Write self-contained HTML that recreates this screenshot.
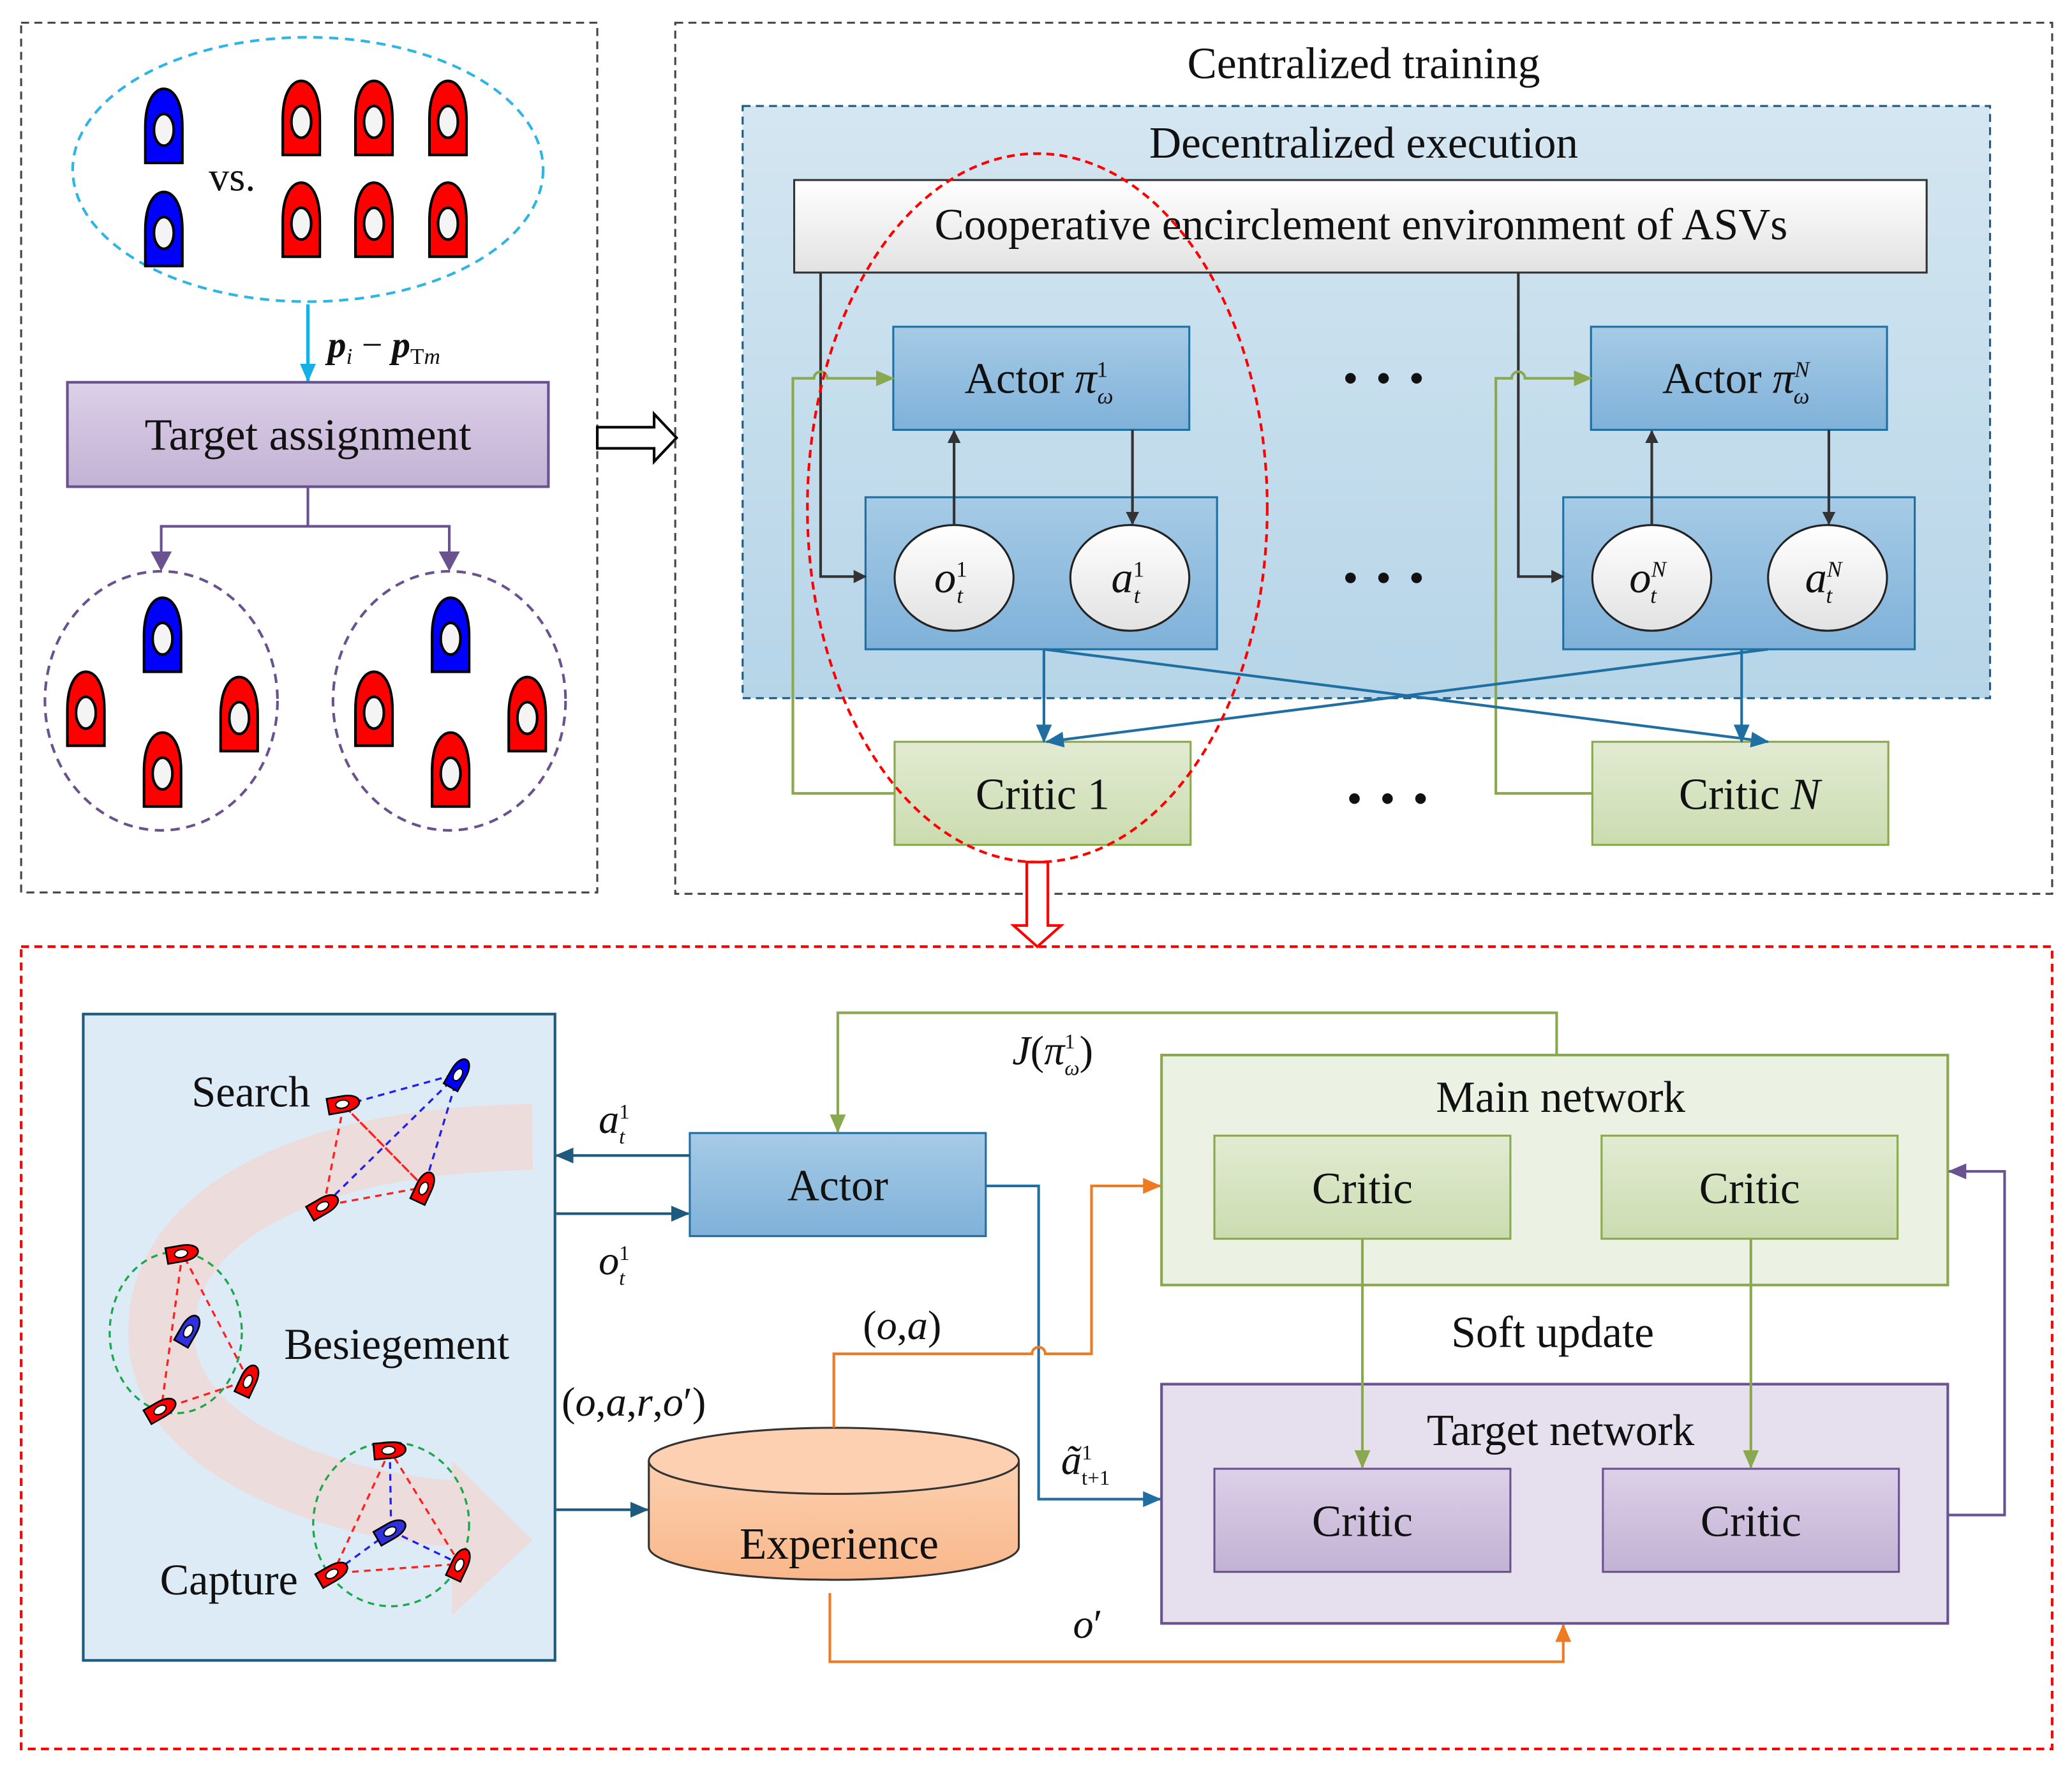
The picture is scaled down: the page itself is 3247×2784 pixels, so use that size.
<!DOCTYPE html>
<html><head><meta charset="utf-8"><style>
html,body{margin:0;padding:0;background:#fff;}
svg{display:block;}
text{font-family:"Liberation Serif",serif;fill:#111;}
</style></head><body>
<svg width="3247" height="2784" viewBox="0 0 1568 1344" xmlns="http://www.w3.org/2000/svg">
<defs>
<symbol id="boat" viewBox="0 0 30 58" overflow="visible">
<path d="M1,57 L1,30 C1,10 8,1 15,1 C22,1 29,10 29,30 L29,57 Z" stroke="#000" stroke-width="2"/>
<ellipse cx="15" cy="32" rx="7.5" ry="12" fill="#f4f4f4" stroke="#000" stroke-width="2"/>
</symbol>
<symbol id="sb" viewBox="0 0 14 26" overflow="visible">
<path d="M1,25 L1,13 C1,5 4,1 7,1 C10,1 13,5 13,13 L13,25 Z" stroke="#000" stroke-width="1.3"/>
<ellipse cx="7" cy="14" rx="3" ry="5" fill="#fff" stroke="#000" stroke-width="1"/>
</symbol>
<linearGradient id="gPur" x1="0" y1="0" x2="0" y2="1"><stop offset="0" stop-color="#ddd0e8"/><stop offset="1" stop-color="#c2b2d4"/></linearGradient>
<linearGradient id="gBlue" x1="0" y1="0" x2="0" y2="1"><stop offset="0" stop-color="#a6cbe6"/><stop offset="1" stop-color="#7fb1d9"/></linearGradient>
<linearGradient id="gBg" x1="0" y1="0" x2="0" y2="1"><stop offset="0" stop-color="#d4e6f1"/><stop offset="1" stop-color="#b6d5e8"/></linearGradient>
<linearGradient id="gEnv" x1="0" y1="0" x2="0" y2="1"><stop offset="0" stop-color="#ffffff"/><stop offset="1" stop-color="#e2e2e2"/></linearGradient>
<linearGradient id="gGrn" x1="0" y1="0" x2="0" y2="1"><stop offset="0" stop-color="#e2ebd2"/><stop offset="1" stop-color="#cbdcb0"/></linearGradient>
<linearGradient id="gCyl" x1="0" y1="0" x2="0" y2="1"><stop offset="0" stop-color="#fcd0b0"/><stop offset="1" stop-color="#f9b78a"/></linearGradient>
<marker id="aK" markerWidth="10" markerHeight="10" refX="9" refY="5" orient="auto" markerUnits="userSpaceOnUse"><path d="M0,0 L10,5 L0,10 Z" fill="#333"/></marker>
<marker id="aB" markerWidth="14" markerHeight="12" refX="13" refY="6" orient="auto" markerUnits="userSpaceOnUse"><path d="M0,0 L14,6 L0,12 Z" fill="#1f6fa3"/></marker>
<marker id="aG" markerWidth="14" markerHeight="12" refX="13" refY="6" orient="auto" markerUnits="userSpaceOnUse"><path d="M0,0 L14,6 L0,12 Z" fill="#8aa84f"/></marker>
<marker id="aP" markerWidth="14" markerHeight="12" refX="13" refY="6" orient="auto" markerUnits="userSpaceOnUse"><path d="M0,0 L14,6 L0,12 Z" fill="#6a5290"/></marker>
<marker id="aO" markerWidth="14" markerHeight="12" refX="13" refY="6" orient="auto" markerUnits="userSpaceOnUse"><path d="M0,0 L14,6 L0,12 Z" fill="#ee7a22"/></marker>
<marker id="aC" markerWidth="14" markerHeight="12" refX="13" refY="6" orient="auto" markerUnits="userSpaceOnUse"><path d="M0,0 L14,6 L0,12 Z" fill="#17b0e6"/></marker>
<marker id="aN" markerWidth="14" markerHeight="12" refX="13" refY="6" orient="auto" markerUnits="userSpaceOnUse"><path d="M0,0 L14,6 L0,12 Z" fill="#1d5a7e"/></marker>
</defs>

<!-- LEFT PANEL -->
<rect x="16" y="17" width="436" height="658" fill="none" stroke="#444" stroke-width="1.5" stroke-dasharray="6,4"/>
<ellipse cx="233" cy="128" rx="178" ry="100" fill="none" stroke="#2cb5e5" stroke-width="2" stroke-dasharray="7,5"/>
<use href="#boat" x="109" y="66" width="30" height="58" fill="#0000ff"/>
<use href="#boat" x="109" y="144" width="30" height="58" fill="#0000ff"/>
<text x="158" y="144" font-size="31">vs.</text>
<use href="#boat" x="213" y="60" width="30" height="58" fill="#ff0000"/>
<use href="#boat" x="268" y="60" width="30" height="58" fill="#ff0000"/>
<use href="#boat" x="324" y="60" width="30" height="58" fill="#ff0000"/>
<use href="#boat" x="213" y="137" width="30" height="58" fill="#ff0000"/>
<use href="#boat" x="268" y="137" width="30" height="58" fill="#ff0000"/>
<use href="#boat" x="324" y="137" width="30" height="58" fill="#ff0000"/>
<line x1="233" y1="230" x2="233" y2="288" stroke="#17b0e6" stroke-width="2.5" marker-end="url(#aC)"/>
<text x="248" y="270" font-size="28" font-style="italic" font-weight="bold">p<tspan font-size="17" dy="5" font-weight="normal">i</tspan><tspan dy="-5" font-weight="normal" font-style="normal"> − </tspan>p<tspan font-size="17" dy="5" font-weight="normal" font-style="normal">T</tspan><tspan font-size="17" font-weight="normal">m</tspan></text>
<rect x="51" y="289" width="364" height="79" fill="url(#gPur)" stroke="#6a5290" stroke-width="2"/>
<text x="233" y="340" font-size="34" text-anchor="middle">Target assignment</text>
<path d="M233,368 V398 H122 V430 M233,398 H340 V430" fill="none" stroke="#6a5290" stroke-width="2"/>
<path d="M114,417 L130,417 L122,432 Z" fill="#6a5290"/><path d="M332,417 L348,417 L340,432 Z" fill="#6a5290"/>
<ellipse cx="122" cy="530" rx="88" ry="98" fill="none" stroke="#6a5290" stroke-width="2" stroke-dasharray="7,5"/>
<ellipse cx="340" cy="530" rx="88" ry="98" fill="none" stroke="#6a5290" stroke-width="2" stroke-dasharray="7,5"/>
<use href="#boat" x="108" y="451" width="30" height="58" fill="#0000ff"/>
<use href="#boat" x="50" y="507" width="30" height="58" fill="#ff0000"/>
<use href="#boat" x="166" y="511" width="30" height="58" fill="#ff0000"/>
<use href="#boat" x="108" y="553" width="30" height="58" fill="#ff0000"/>
<use href="#boat" x="326" y="451" width="30" height="58" fill="#0000ff"/>
<use href="#boat" x="268" y="507" width="30" height="58" fill="#ff0000"/>
<use href="#boat" x="384" y="511" width="30" height="58" fill="#ff0000"/>
<use href="#boat" x="326" y="553" width="30" height="58" fill="#ff0000"/>

<!-- hollow arrow right -->
<path d="M452,323 H495 V313 L512,331 L495,349 V339 H452 Z" fill="#fff" stroke="#000" stroke-width="2"/>

<!-- RIGHT PANEL -->
<rect x="511" y="17" width="1042" height="659" fill="none" stroke="#444" stroke-width="1.5" stroke-dasharray="6,4"/>
<text x="1032" y="59" font-size="33.5" text-anchor="middle">Centralized training</text>
<rect x="562" y="80" width="944" height="448" fill="url(#gBg)" stroke="#1d5a7e" stroke-width="1.5" stroke-dasharray="6,4"/>
<text x="1032" y="119" font-size="33.5" text-anchor="middle">Decentralized execution</text>
<rect x="601" y="136" width="857" height="70" fill="url(#gEnv)" stroke="#333" stroke-width="1.5"/>
<text x="1030" y="181" font-size="33.5" text-anchor="middle">Cooperative encirclement environment of ASVs</text>

<rect x="676" y="247" width="224" height="78" fill="url(#gBlue)" stroke="#1f6fa3" stroke-width="1.5"/>
<text x="730" y="297" font-size="33">Actor <tspan font-style="italic">π</tspan><tspan font-size="17" dy="-12">1</tspan><tspan font-size="17" font-style="italic" dx="-8" dy="20">ω</tspan></text>
<rect x="1204" y="247" width="224" height="78" fill="url(#gBlue)" stroke="#1f6fa3" stroke-width="1.5"/>
<text x="1258" y="297" font-size="33">Actor <tspan font-style="italic">π</tspan><tspan font-size="17" font-style="italic" dy="-12">N</tspan><tspan font-size="17" font-style="italic" dx="-12" dy="20">ω</tspan></text>

<rect x="655" y="376" width="266" height="115" fill="url(#gBlue)" stroke="#1f6fa3" stroke-width="1.5"/>
<rect x="1183" y="376" width="266" height="115" fill="url(#gBlue)" stroke="#1f6fa3" stroke-width="1.5"/>
<g fill="url(#gEnv)" stroke="#222" stroke-width="1.5">
<ellipse cx="722" cy="437" rx="45" ry="40"/><ellipse cx="855" cy="437" rx="45" ry="40"/>
<ellipse cx="1250" cy="437" rx="45" ry="40"/><ellipse cx="1383" cy="437" rx="45" ry="40"/>
</g>
<g font-size="33" font-style="italic">
<text x="707" y="448">o<tspan font-size="17" font-style="normal" dy="-12">1</tspan><tspan font-size="17" dx="-8" dy="20">t</tspan></text>
<text x="841" y="448">a<tspan font-size="17" font-style="normal" dy="-12">1</tspan><tspan font-size="17" dx="-8" dy="20">t</tspan></text>
<text x="1233" y="448">o<tspan font-size="17" dy="-12">N</tspan><tspan font-size="17" dx="-12" dy="20">t</tspan></text>
<text x="1366" y="448">a<tspan font-size="17" dy="-12">N</tspan><tspan font-size="17" dx="-12" dy="20">t</tspan></text>
</g>
<g stroke="#333" stroke-width="2" fill="none">
<line x1="722" y1="397" x2="722" y2="326" marker-end="url(#aK)"/>
<line x1="857" y1="325" x2="857" y2="396" marker-end="url(#aK)"/>
<line x1="1250" y1="397" x2="1250" y2="326" marker-end="url(#aK)"/>
<line x1="1384" y1="325" x2="1384" y2="396" marker-end="url(#aK)"/>
<path d="M621,206 V436 H655" marker-end="url(#aK)"/>
<path d="M1149,206 V436 H1183" marker-end="url(#aK)"/>
</g>
<g fill="#111"><circle cx="1022" cy="286" r="4"/><circle cx="1047" cy="286" r="4"/><circle cx="1072" cy="286" r="4"/>
<circle cx="1022" cy="437" r="4"/><circle cx="1047" cy="437" r="4"/><circle cx="1072" cy="437" r="4"/>
<circle cx="1025" cy="604" r="4"/><circle cx="1050" cy="604" r="4"/><circle cx="1075" cy="604" r="4"/></g>

<rect x="677" y="561" width="224" height="78" fill="url(#gGrn)" stroke="#8aa84f" stroke-width="1.5"/>
<text x="789" y="612" font-size="33.5" text-anchor="middle">Critic 1</text>
<rect x="1205" y="561" width="224" height="78" fill="url(#gGrn)" stroke="#8aa84f" stroke-width="1.5"/>
<text x="1324" y="612" font-size="33.5" text-anchor="middle">Critic <tspan font-style="italic">N</tspan></text>
<g stroke="#8aa84f" stroke-width="2" fill="none">
<path d="M677,600 H600 V286 H616 A5,5 0 0 1 626,286 H676" marker-end="url(#aG)"/>
<path d="M1205,600 H1132 V286 H1144 A5,5 0 0 1 1154,286 H1204" marker-end="url(#aG)"/>
</g>
<g stroke="#1f6fa3" stroke-width="2" fill="none">
<path d="M790,491 V561" marker-end="url(#aB)"/>
<path d="M790,491 L1338,561" marker-end="url(#aB)"/>
<path d="M1318,491 V561" marker-end="url(#aB)"/>
<path d="M1338,491 L792,561" marker-end="url(#aB)"/>
</g>
<ellipse cx="785" cy="384" rx="174" ry="268" fill="none" stroke="#ff0000" stroke-width="2" stroke-dasharray="6,4"/>

<!-- red hollow arrow down -->
<path d="M777,652 H793 V700 H803 L785,716 L767,700 H777 Z" fill="#fff" stroke="#ff0000" stroke-width="2"/>

<!-- BOTTOM PANEL -->
<rect x="16" y="716" width="1537" height="607" fill="none" stroke="#ff0000" stroke-width="2" stroke-dasharray="6,4"/>
<rect x="63" y="767" width="357" height="489" fill="#dcebf5" stroke="#1d5a7e" stroke-width="2"/>
<path d="M403,860 C230,862 120,920 122,1010 C124,1100 260,1140 345,1145" fill="none" stroke="#ecdcdb" stroke-width="50"/>
<path d="M342,1105 L403,1165 L342,1222 Z" fill="#ecdcdb"/>
<g fill="none" stroke-width="1.6" stroke-dasharray="5,4">
<path d="M260,836 L245,912 L321,898 Z" stroke="#ff2020"/>
<path d="M260,836 L321,898" stroke="#ff2020"/>
<path d="M260,836 L347,812 L321,898 M347,812 L245,912" stroke="#2020ee"/>
<ellipse cx="133" cy="1008" rx="50" ry="61" stroke="#1aa84a"/>
<path d="M138,948 L122,1066 L188,1044 Z" stroke="#ff2020"/>
<ellipse cx="296" cy="1153" rx="59" ry="62" stroke="#1aa84a"/>
<path d="M295,1097 L252,1190 L348,1183 Z" stroke="#ff2020"/>
<path d="M295,1097 L296,1158 L252,1190 M296,1158 L348,1183" stroke="#2020ee"/>
</g>
<use href="#sb" x="253" y="822" width="14" height="26" fill="#ff0000" transform="rotate(80 260 835)"/>
<use href="#sb" x="340" y="799" width="14" height="26" fill="#0000ff" transform="rotate(30 347 812)"/>
<use href="#sb" x="238" y="899" width="14" height="26" fill="#ff0000" transform="rotate(60 245 912)"/>
<use href="#sb" x="314" y="885" width="14" height="26" fill="#ff0000" transform="rotate(25 321 898)"/>
<use href="#sb" x="131" y="935" width="14" height="26" fill="#ff0000" transform="rotate(80 138 948)"/>
<use href="#sb" x="136" y="993" width="14" height="26" fill="#3030dd" transform="rotate(30 143 1006)"/>
<use href="#sb" x="181" y="1031" width="14" height="26" fill="#ff0000" transform="rotate(25 188 1044)"/>
<use href="#sb" x="115" y="1053" width="14" height="26" fill="#ff0000" transform="rotate(60 122 1066)"/>
<use href="#sb" x="288" y="1084" width="14" height="26" fill="#ff0000" transform="rotate(85 295 1097)"/>
<use href="#sb" x="289" y="1145" width="14" height="26" fill="#3030dd" transform="rotate(60 296 1158)"/>
<use href="#sb" x="245" y="1177" width="14" height="26" fill="#ff0000" transform="rotate(60 252 1190)"/>
<use href="#sb" x="341" y="1170" width="14" height="26" fill="#ff0000" transform="rotate(25 348 1183)"/>
<text x="145" y="837" font-size="33">Search</text>
<text x="215" y="1028" font-size="33">Besiegement</text>
<text x="121" y="1206" font-size="33">Capture</text>

<rect x="522" y="857" width="224" height="78" fill="url(#gBlue)" stroke="#1f6fa3" stroke-width="1.5"/>
<text x="634" y="908" font-size="33.5" text-anchor="middle">Actor</text>
<line x1="522" y1="874" x2="421" y2="874" stroke="#1d5a7e" stroke-width="2" marker-end="url(#aN)"/>
<line x1="421" y1="918" x2="521" y2="918" stroke="#1d5a7e" stroke-width="2" marker-end="url(#aN)"/>
<line x1="421" y1="1142" x2="490" y2="1142" stroke="#1d5a7e" stroke-width="2" marker-end="url(#aN)"/>
<g font-size="31" font-style="italic">
<text x="453" y="857">a<tspan font-size="16" font-style="normal" dy="-11">1</tspan><tspan font-size="16" dx="-8" dy="19">t</tspan></text>
<text x="453" y="964">o<tspan font-size="16" font-style="normal" dy="-11">1</tspan><tspan font-size="16" dx="-8" dy="19">t</tspan></text>
<text x="425" y="1071"><tspan font-style="normal">(</tspan>o<tspan font-style="normal">,</tspan>a<tspan font-style="normal">,</tspan>r<tspan font-style="normal">,</tspan>o<tspan font-style="normal">′)</tspan></text>
<text x="653" y="1013"><tspan font-style="normal">(</tspan>o<tspan font-style="normal">,</tspan>a<tspan font-style="normal">)</tspan></text>
<text x="766" y="805">J<tspan font-style="normal">(</tspan>π<tspan font-size="16" font-style="normal" dy="-12">1</tspan><tspan font-size="16" dx="-8" dy="20">ω</tspan><tspan font-style="normal" dy="-8">)</tspan></text>
<text x="803" y="1115">ã<tspan font-size="16" font-style="normal" dy="-11">1</tspan><tspan font-size="16" font-style="normal" dx="-8" dy="19">t+1</tspan></text>
<text x="812" y="1239">o<tspan font-style="normal">′</tspan></text>
<text x="616" y="1117">D</text>
</g>

<!-- cylinder -->
<path d="M491,1105 V1170 A140,25 0 0 0 771,1170 V1105" fill="url(#gCyl)" stroke="#333" stroke-width="1.5"/>
<ellipse cx="631" cy="1105" rx="140" ry="25" fill="#fcd0b0" stroke="#333" stroke-width="1.5"/>
<text x="635" y="1179" font-size="33.5" text-anchor="middle">Experience</text>

<rect x="879" y="798" width="595" height="174" fill="#ebf1e3" stroke="#8aa84f" stroke-width="2"/>
<text x="1181" y="841" font-size="33.5" text-anchor="middle">Main network</text>
<rect x="919" y="859" width="224" height="78" fill="url(#gGrn)" stroke="#8aa84f" stroke-width="1.5"/>
<rect x="1212" y="859" width="224" height="78" fill="url(#gGrn)" stroke="#8aa84f" stroke-width="1.5"/>
<text x="1031" y="910" font-size="33.5" text-anchor="middle">Critic</text>
<text x="1324" y="910" font-size="33.5" text-anchor="middle">Critic</text>
<text x="1175" y="1019" font-size="33.5" text-anchor="middle">Soft update</text>
<rect x="879" y="1047" width="595" height="181" fill="#e6e0ee" stroke="#6a5290" stroke-width="2"/>
<text x="1181" y="1093" font-size="33.5" text-anchor="middle">Target network</text>
<rect x="919" y="1111" width="224" height="78" fill="url(#gPur)" stroke="#6a5290" stroke-width="1.5"/>
<rect x="1213" y="1111" width="224" height="78" fill="url(#gPur)" stroke="#6a5290" stroke-width="1.5"/>
<text x="1031" y="1162" font-size="33.5" text-anchor="middle">Critic</text>
<text x="1325" y="1162" font-size="33.5" text-anchor="middle">Critic</text>

<g fill="none" stroke-width="2">
<path d="M1178,798 V766 H634 V856" stroke="#8aa84f" marker-end="url(#aG)"/>
<path d="M1031,937 V1110" stroke="#8aa84f" marker-end="url(#aG)"/>
<path d="M1325,937 V1110" stroke="#8aa84f" marker-end="url(#aG)"/>
<path d="M746,897 H786 V1134 H878" stroke="#1f6fa3" marker-end="url(#aB)"/>
<path d="M631,1080 V1024 H781 A5,5 0 0 1 791,1024 H826 V897 H878" stroke="#ee7a22" marker-end="url(#aO)"/>
<path d="M628,1205 V1257 H1183 V1229" stroke="#ee7a22" marker-end="url(#aO)"/>
<path d="M1474,1146 H1517 V886 H1475" stroke="#6a5290" marker-end="url(#aP)"/>
</g>
</svg>
</body></html>
